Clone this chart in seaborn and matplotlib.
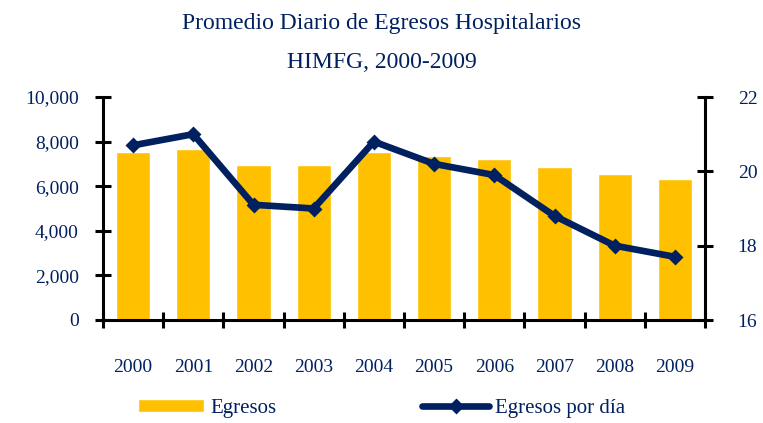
import numpy as np
import pandas as pd
import matplotlib
matplotlib.use("Agg")
import matplotlib.pyplot as plt
import seaborn as sns
from matplotlib.ticker import FixedLocator, FuncFormatter

years = ["2000", "2001", "2002", "2003", "2004", "2005", "2006", "2007", "2008", "2009"]
egresos = [7550, 7660, 6950, 6950, 7550, 7360, 7240, 6850, 6550, 6340]
egresos_dia = [20.7, 21.0, 19.1, 19.0, 20.8, 20.2, 19.9, 18.8, 18.0, 17.7]

sns.set_style("white")
plt.rcParams["font.family"] = ["Liberation Serif", "DejaVu Serif"]

navy = "#002060"
gold = "#FFC000"

df = pd.DataFrame({"year": years, "egresos": egresos, "dia": egresos_dia})

fig = plt.figure(figsize=(7.63, 4.23), dpi=100)
ax = fig.add_axes([103/763, 1-320/423, (705-103)/763, (320-97)/423])

sns.barplot(data=df, x="year", y="egresos", color=gold, width=0.565,
            saturation=1, ax=ax, label="Egresos")
ax.set_ylim(0, 10000)
ax.set_xlim(-0.5, 9.5)

ax2 = ax.twinx()
sns.pointplot(data=df, x="year", y="dia", color=navy, markers="D",
              linestyles="-", ax=ax2, label="Egresos por día")
for ln in ax2.lines:
    ln.set_linewidth(4.8)
    ln.set_markersize(6)
    ln.set_solid_joinstyle("round")
    ln.set_solid_capstyle("round")
ax2.set_ylim(16, 22)
ax2.set_xlim(-0.5, 9.5)

h1, l1 = ax.get_legend_handles_labels()
h2, l2 = ax2.get_legend_handles_labels()
for a in (ax, ax2):
    if a.get_legend() is not None:
        a.get_legend().remove()

for a in (ax, ax2):
    a.set_xlabel("")
    a.set_ylabel("")
    a.spines["top"].set_visible(False)
    for s in ("left", "right", "bottom"):
        a.spines[s].set_color("black")
        a.spines[s].set_linewidth(2.2)
ax.spines["right"].set_visible(False)
ax2.spines["left"].set_visible(False)
ax2.spines["bottom"].set_visible(False)

ax.set_yticks(np.arange(0, 10001, 2000))
ax.yaxis.set_major_formatter(FuncFormatter(lambda v, p: f"{int(v):,}"))
ax2.set_yticks([16, 18, 20, 22])

ax.xaxis.set_major_locator(FixedLocator(np.arange(-0.5, 10, 1)))
ax.xaxis.set_minor_locator(FixedLocator(np.arange(0, 10, 1)))
ax.set_xticklabels([], minor=False)
ax.set_xticklabels(years, minor=True)
ax.tick_params(axis="x", which="major", direction="inout", length=11, width=2.2,
               color="black", bottom=True)
ax.tick_params(axis="x", which="minor", length=0, pad=28, labelsize=14,
               labelcolor=navy)
ax.tick_params(axis="y", direction="inout", length=11, width=2.2, color="black",
               left=True, labelsize=14, labelcolor=navy, pad=12)
ax2.tick_params(axis="y", direction="inout", length=11, width=2.2, color="black",
                right=True, labelsize=14, labelcolor=navy, pad=18)
ax2.tick_params(axis="x", bottom=False, labelbottom=False)

fig.text(0.5, 1-23/423, "Promedio Diario de Egresos Hospitalarios", ha="center",
         va="center", fontsize=17, color=navy)
fig.text(0.5, 1-63/423, "HIMFG, 2000-2009", ha="center", va="center",
         fontsize=17, color=navy)

fig.legend(h1[:1] + h2[:1], ["Egresos", "Egresos por día"], loc="center",
           bbox_to_anchor=(0.5, 1-408/423), ncol=2, frameon=False,
           fontsize=15, labelcolor=navy, columnspacing=7,
           handlelength=3.2, handletextpad=0.3, handleheight=0.6)

fig.savefig("out.png", dpi=100)
